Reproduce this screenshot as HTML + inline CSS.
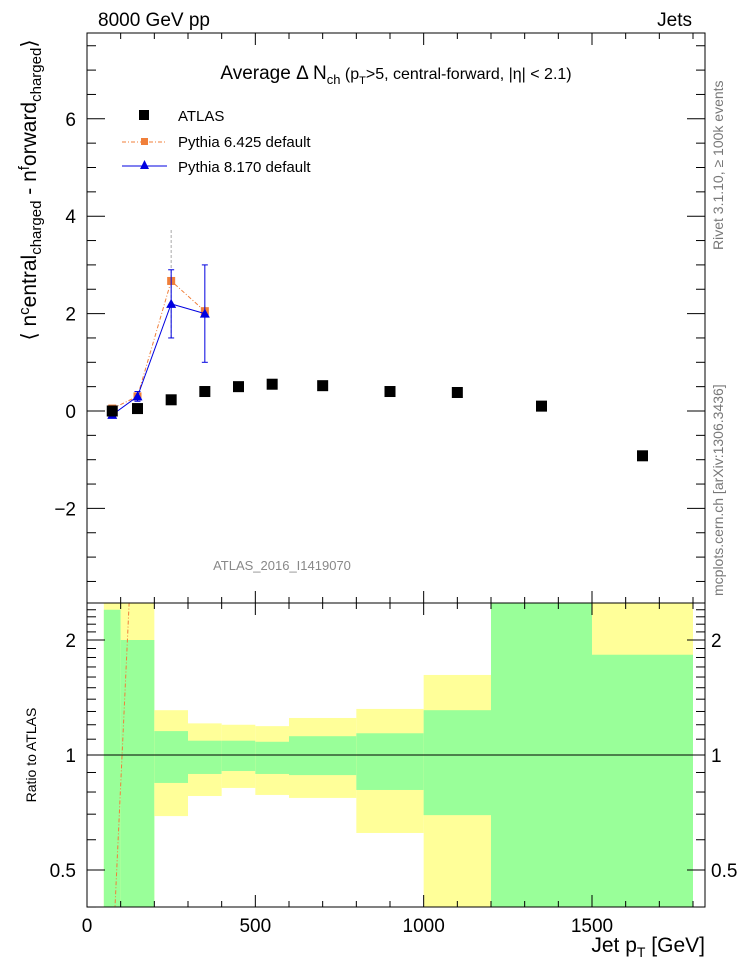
<!DOCTYPE html>
<html><head><meta charset="utf-8"><style>
body{margin:0;background:#fff;font-family:"Liberation Sans",sans-serif}
svg text{font-family:"Liberation Sans",sans-serif}
</style></head><body>
<svg id="c" width="746" height="972" xmlns="http://www.w3.org/2000/svg">
<text x="98" y="26" font-size="19">8000 GeV pp</text>
<text x="692" y="26" font-size="19" text-anchor="end">Jets</text>
<text x="396" y="79" font-size="19" text-anchor="middle">Average Δ N<tspan font-size="13" dy="5">ch</tspan><tspan dy="-5" font-size="16"> (p</tspan><tspan font-size="11" dy="5">T</tspan><tspan dy="-5" font-size="16">&gt;5, central-forward, |η| &lt; 2.1)</tspan></text>
<text x="282" y="570" font-size="13" fill="#888" text-anchor="middle">ATLAS_2016_I1419070</text>
<text transform="translate(723,250) rotate(-90)" font-size="14" fill="#777">Rivet 3.1.10, ≥ 100k events</text>
<text transform="translate(723,596) rotate(-90)" font-size="14" fill="#777">mcplots.cern.ch [arXiv:1306.3436]</text>
<text transform="translate(36,190) rotate(-90)" font-size="21" text-anchor="middle">⟨ n<tspan font-size="15" dy="-7">c</tspan><tspan dy="7">entral</tspan><tspan font-size="15" dy="5">charged</tspan><tspan dy="-5"> - n</tspan><tspan font-size="15" dy="-7">f</tspan><tspan dy="7">orward</tspan><tspan font-size="15" dy="5">charged</tspan><tspan dy="-5">⟩</tspan></text>
<text transform="translate(36,755) rotate(-90)" font-size="14" text-anchor="middle">Ratio to ATLAS</text>
<text x="705" y="952" font-size="21" text-anchor="end">Jet p<tspan font-size="14" dy="5">T</tspan><tspan dy="-5"> [GeV]</tspan></text>
<g id="legend">
<rect x="139" y="110" width="10" height="10" fill="#000"/>
<text x="178" y="121" font-size="15">ATLAS</text>
<line x1="122" y1="142" x2="167" y2="142" stroke="#f07f3a" stroke-dasharray="4,2,1,2"/>
<rect x="141" y="138" width="7" height="7" fill="#f07f3a"/>
<text x="178" y="147" font-size="15">Pythia 6.425 default</text>
<line x1="122" y1="166" x2="167" y2="166" stroke="#0000e0"/>
<polygon points="144.5,160 140,169 149,169" fill="#0000e0"/>
<text x="178" y="172" font-size="15">Pythia 8.170 default</text>
</g>
</svg>
<script>
const binLo=[50,100,200,300,400,500,600,800,1000,1200,1500];
const binHi=[100,200,300,400,500,600,800,1000,1200,1500,1800];
const atlas=[0.0,0.05,0.23,0.4,0.5,0.55,0.52,0.4,0.38,0.1,-0.92];
const p6Cen=[75,150,250,350];
const p6=[0.05,0.3,2.67,2.05];
const p6Lo=[0.0,0.2,1.5,1.9];
const p6Hi=[0.1,0.4,3.75,2.2];
const p8=[-0.08,0.3,2.2,2.0];
const p8Lo=[-0.12,0.2,1.5,1.0];
const p8Hi=[-0.04,0.4,2.9,3.0];
const p6Ratio=[0.28,7.4,11.6,5.1];
const yelUp=[3,3,1.31,1.21,1.2,1.19,1.25,1.32,1.62,3,3];
const grnUp=[2.4,2.0,1.155,1.09,1.09,1.083,1.12,1.14,1.31,3,1.83];
const grnDn=[0.3,0.3,0.845,0.892,0.908,0.892,0.886,0.81,0.696,0.3,0.3];
const yelDn=[0.3,0.3,0.692,0.781,0.82,0.786,0.772,0.625,0.3,0.3,0.3];
const xTicks=[0,500,1000,1500];
const yTicks=[-2,0,2,4,6];
const rTicks=[0.5,1,2];

const NS="http://www.w3.org/2000/svg",svg=document.getElementById('c');
const L=87,R=705,T=33,B=603,RB=907;
const X=v=>L+v*(606/1800);
const Y=v=>411-v*48.7;
const RY=r=>755-Math.log2(r)*115;
function mk(t,a,p){const e=document.createElementNS(NS,t);for(const k in a)e.setAttribute(k,a[k]);(p||svg).appendChild(e);return e;}
const cl=mk('clipPath',{id:'rc2'});mk('rect',{x:L,y:B,width:R-L,height:RB-B},cl);
const bands=mk('g',{'clip-path':'url(#rc2)'});


for(let i=0;i<binLo.length;i++){
 const y=mk('rect',{x:X(binLo[i]),width:X(binHi[i])-X(binLo[i]),y:RY(yelUp[i]),height:RY(yelDn[i])-RY(yelUp[i]),fill:'#ffff99'},bands);
 
 
 const g=mk('rect',{x:X(binLo[i]),width:X(binHi[i])-X(binLo[i]),y:RY(grnUp[i]),height:RY(grnDn[i])-RY(grnUp[i]),fill:'#99ff99'},bands);
 
 
}
const one=mk('line',{x1:L,x2:R,y1:RY(1),y2:RY(1),stroke:'#000'});


const rl=mk('polyline',{points:p6Cen.map((c,i)=>X(c)+','+RY(p6Ratio[i])).join(' '),fill:'none',stroke:'#f07f3a','stroke-dasharray':'4,2,1,2','clip-path':'url(#rc2)'});


const f1=mk('rect',{x:L,y:T,width:R-L,height:B-T,fill:'none',stroke:'#000'});


const f2=mk('rect',{x:L,y:B,width:R-L,height:RB-B,fill:'none',stroke:'#000'});


for(let v=0;v<=1800;v+=100){const maj=v%500==0;
 for(const [a,b] of [[T,T+(maj?12:6)],[B,B-(maj?12:6)],[B,B+(maj?12:6)],[RB,RB-(maj?12:6)]])mk('line',{x1:X(v),x2:X(v),y1:a,y2:b,stroke:'#000'});}
xTicks.forEach(v=>{const t=mk('text',{x:X(v),y:932,'font-size':19,'text-anchor':'middle'});t.textContent=v;
 
 });
for(let v=-3.5;v<=7.5;v+=0.5){const maj=Math.abs(v%2)<1e-9;
 mk('line',{x1:L,x2:L+(maj?18:9),y1:Y(v),y2:Y(v),stroke:'#000'});mk('line',{x1:R,x2:R-(maj?18:9),y1:Y(v),y2:Y(v),stroke:'#000'});}
yTicks.forEach(v=>{const t=mk('text',{x:76,y:Y(v)+7,'font-size':19,'text-anchor':'end'});t.textContent=v<0?'−'+(-v):v;
 
 });
for(let r=0.4;r<=2.5;r+=0.1){const maj=rTicks.some(q=>Math.abs(q-r)<1e-6);
 mk('line',{x1:L,x2:L+(maj?18:9),y1:RY(r),y2:RY(r),stroke:'#000'});mk('line',{x1:R,x2:R-(maj?18:9),y1:RY(r),y2:RY(r),stroke:'#000'});}
rTicks.forEach(r=>{for(const [x,a] of [[76,'end'],[711,'start']]){const t=mk('text',{x:x,y:RY(r)+7,'font-size':19,'text-anchor':a});t.textContent=r;
 
 }});
const g6=mk('g',{});


mk('polyline',{points:p6Cen.map((c,i)=>X(c)+','+Y(p6[i])).join(' '),fill:'none',stroke:'#f07f3a','stroke-dasharray':'4,2,1,2'},g6);
p6Cen.forEach((c,i)=>{mk('line',{x1:X(c),x2:X(c),y1:Y(p6Lo[i]),y2:Y(p6Hi[i]),stroke:'#aaa','stroke-dasharray':'3,2'},g6);
 const m=mk('rect',{x:X(c)-4,y:Y(p6[i])-4,width:8,height:8,fill:'#f07f3a'},g6);
 
 });
const g8=mk('g',{});


mk('polyline',{points:p6Cen.map((c,i)=>X(c)+','+Y(p8[i])).join(' '),fill:'none',stroke:'#0000e0'},g8);
p6Cen.forEach((c,i)=>{mk('line',{x1:X(c),x2:X(c),y1:Y(p8Lo[i]),y2:Y(p8Hi[i]),stroke:'#0000e0'},g8);
 mk('line',{x1:X(c)-3,x2:X(c)+3,y1:Y(p8Lo[i]),y2:Y(p8Lo[i]),stroke:'#0000e0'},g8);
 mk('line',{x1:X(c)-3,x2:X(c)+3,y1:Y(p8Hi[i]),y2:Y(p8Hi[i]),stroke:'#0000e0'},g8);
 const x=X(c),y=Y(p8[i]);
 const m=mk('polygon',{points:`${x},${y-5} ${x-5},${y+4} ${x+5},${y+4}`,fill:'#0000e0'},g8);
 
 });
const ga=mk('g',{});


atlas.forEach((v,i)=>{const c=(binLo[i]+binHi[i])/2;
 const m=mk('rect',{x:X(c)-5.5,y:Y(v)-5.5,width:11,height:11,fill:'#000'},ga);
 
 });
svg.appendChild(document.getElementById('legend'));
</script>
</body></html>
